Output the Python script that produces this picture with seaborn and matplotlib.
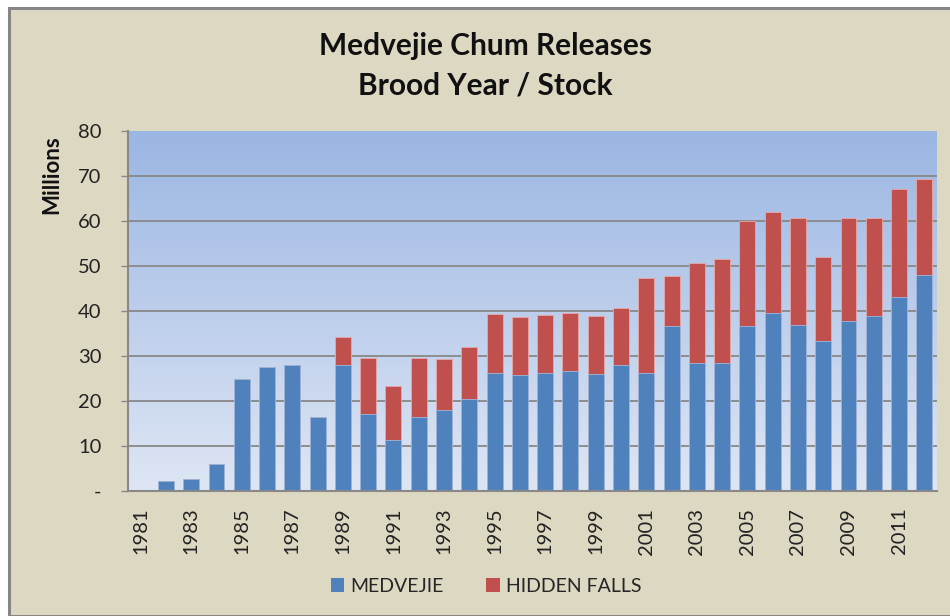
import numpy as np
import pandas as pd
import matplotlib
matplotlib.use("Agg")
import matplotlib.pyplot as plt
from matplotlib.patches import Rectangle, Patch
import seaborn as sns

years = list(range(1981, 2013))
medvejie = [0.0, 2.3, 2.6, 6.1, 25.0, 27.6, 28.1, 16.4, 28.0, 17.1, 11.3, 16.5,
            18.1, 20.5, 26.3, 25.8, 26.3, 26.6, 26.1, 27.9, 26.3, 36.7, 28.4, 28.4,
            36.7, 39.6, 36.9, 33.3, 37.8, 38.9, 43.1, 48.1]
total = [0.0, 2.3, 2.6, 6.1, 25.0, 27.6, 28.1, 16.4, 34.2, 29.6, 23.3, 29.6,
         29.3, 31.9, 39.3, 38.6, 39.1, 39.6, 38.8, 40.6, 47.3, 47.8, 50.6, 51.6,
         59.9, 61.9, 60.6, 52.1, 60.6, 60.6, 67.1, 69.3]
hidden_falls = [round(t - m, 1) for t, m in zip(total, medvejie)]
series_names = ["MEDVEJIE", "HIDDEN FALLS"]
y_ticks = [0, 10, 20, 30, 40, 50, 60, 70, 80]
y_tick_labels = ["-", "10", "20", "30", "40", "50", "60", "70", "80"]

df = pd.DataFrame({"year": [str(y) for y in years], "medvejie": medvejie,
                   "hidden": hidden_falls})
df["total"] = df["medvejie"] + df["hidden"]

BLUE = "#4F81BD"
RED = "#C0504D"
BG = "#DDD8C2"
FONT = ["Lato", "DejaVu Sans"]

sns.set_theme(style="white")
plt.rcParams["font.family"] = FONT

fig = plt.figure(figsize=(9.5, 6.16), dpi=100, facecolor="white")
fig.patches.append(Rectangle((9 / 950, 0), 1, (616 - 8) / 616, transform=fig.transFigure,
                             facecolor=BG, edgecolor="#868686", linewidth=2.2, zorder=-10))

ax = fig.add_axes([128 / 950, (616 - 491) / 616, (937 - 128) / 950, (491 - 131) / 616])
ax.set_facecolor("none")

# gradient background of plot area
top_c = np.array(matplotlib.colors.to_rgb("#9BB6E3"))
bot_c = np.array(matplotlib.colors.to_rgb("#DEE6F4"))
t = np.linspace(0, 1, 256)[:, None]
grad = (top_c[None, :] * (1 - t) + bot_c[None, :] * t)[:, None, :]
ax.imshow(grad, extent=[0, 1, 0, 1], transform=ax.transAxes, aspect="auto", zorder=0)

sns.barplot(data=df, x="year", y="total", color=RED, saturation=1, width=0.63,
            edgecolor="#E8A8A6", linewidth=0.6, ax=ax, zorder=3)
sns.barplot(data=df, x="year", y="medvejie", color=BLUE, saturation=1, width=0.63,
            edgecolor="#9DB8DC", linewidth=0.6, ax=ax, zorder=4)

ax.set_xlim(-0.5, len(years) - 0.5)
ax.set_ylim(0, 80)
for yv in y_ticks[1:-1]:
    ax.axhline(yv, color="#888888", linewidth=1.3, zorder=2)

ax.set_yticks(y_ticks)
ax.set_yticklabels(y_tick_labels, fontsize=14.5, color="#222222")
ax.set_xticks(range(0, len(years), 2))
ax.set_xticklabels([str(y) for y in years[::2]], rotation=90, fontsize=14.5, color="#222222")
ax.tick_params(axis="y", length=5, width=1, color="#888888", pad=14, left=True)
ax.tick_params(axis="x", length=0, pad=12)
ax.set_xlabel("")
ax.set_ylabel("")
for s in ["top", "right"]:
    ax.spines[s].set_visible(False)
for s in ["left", "bottom"]:
    ax.spines[s].set_color("#888888")
    ax.spines[s].set_linewidth(1.5)
    ax.spines[s].set_zorder(5)

fig.text(485 / 950, 1 - 46 / 616, "Medvejie Chum Releases", ha="center", va="center",
         fontsize=21.5, fontweight="bold", color="#111111")
fig.text(485 / 950, 1 - 85 / 616, "Brood Year / Stock", ha="center", va="center",
         fontsize=21.5, fontweight="bold", color="#111111")
fig.text(52 / 950, 1 - 175 / 616, "Millions", rotation=90, ha="center", va="center",
         fontsize=16, fontweight="bold", color="#111111")

handles = [Patch(facecolor=BLUE, edgecolor="none"), Patch(facecolor=RED, edgecolor="none")]
fig.legend(handles, series_names, loc="center", bbox_to_anchor=(486 / 950, 1 - 586 / 616),
           ncol=2, frameon=False, fontsize=14, handlelength=0.7, handleheight=0.7,
           handletextpad=0.3, columnspacing=2.2)

fig.savefig("out.png", dpi=100, facecolor=fig.get_facecolor())
